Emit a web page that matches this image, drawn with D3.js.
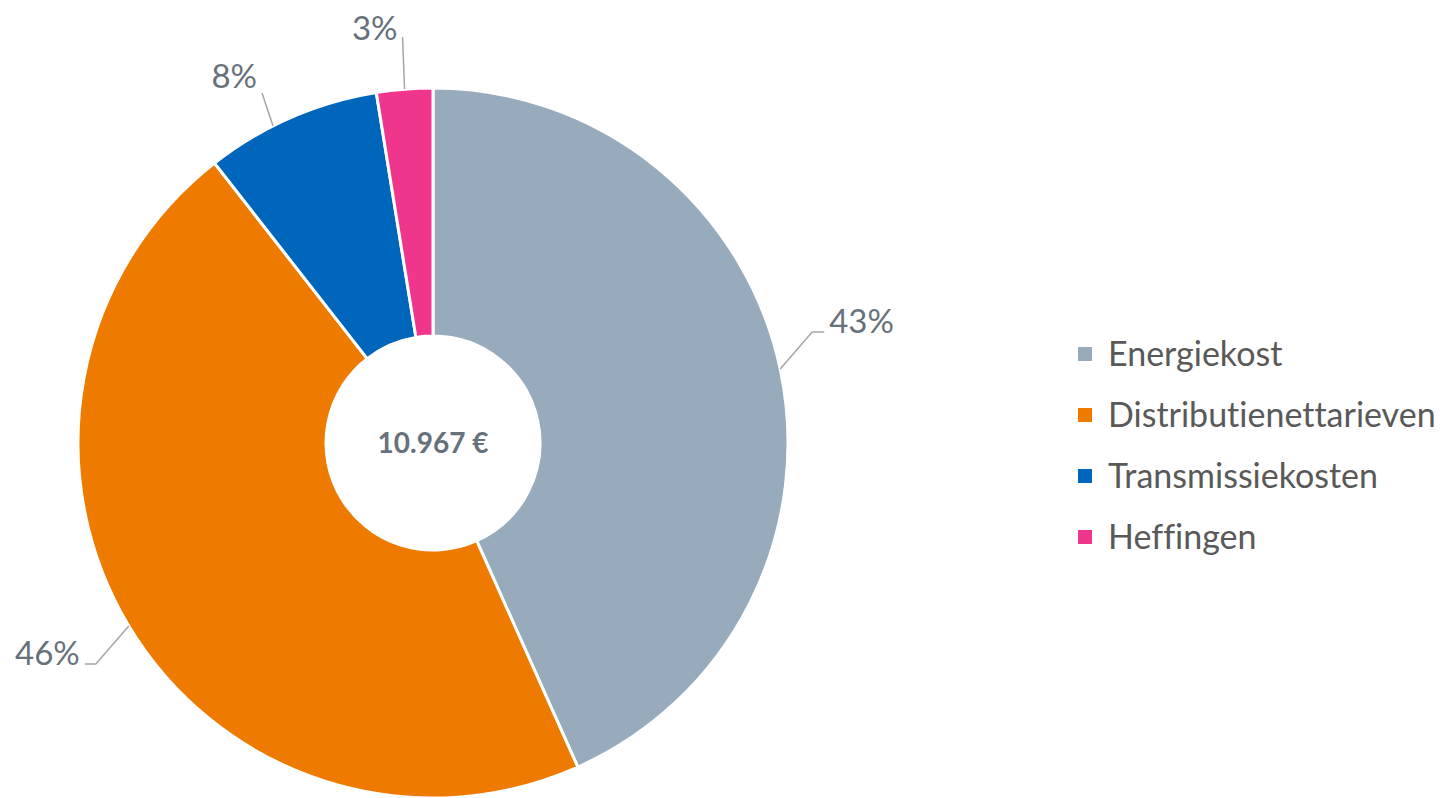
<!DOCTYPE html>
<html>
<head>
<meta charset="utf-8">
<script src="https://cdn.jsdelivr.net/npm/d3@7"></script>
<style>
    html, body { margin: 0; padding: 0; background: #fff; }
    svg { display: block; font-family: Lato, "Open Sans", sans-serif; font-variant-ligatures: none; }
</style>
</head>
<body>
<svg id="chart" width="1446" height="798"></svg>
<script>
// data
const categories = ['Energiekost', 'Distributienettarieven', 'Transmissiekosten', 'Heffingen'];
const values = [4750, 5060, 877, 280];
const colors = ['#97abbd', '#ef7a00', '#0066bb', '#f0368c'];
const totalLabel = '10.967 €';

// label leader layout (pixel offsets from the slice edge)
const labelLayout = [
    { nudge: 0, dx: 32, dy: -37, hx: 12, ty: 1 },
    { nudge: 0, dx: -33, dy: 38, hx: -11, ty: 1 },
    { nudge: -3.2, dx: -11, dy: -33, hx: 0, ty: -5 },
    { nudge: 0, dx: -2, dy: -52, hx: 0, ty: 3 }
];

const svg = d3.select('#chart');
const cx = 433, cy = 443;
const outerR = 355, innerR = 107;

const pie = d3.pie().sort(null).value(d => d.value);
const arc = d3.arc().innerRadius(innerR).outerRadius(outerR);

const rows = categories.map((c, i) => ({ name: c, value: values[i], color: colors[i] }));
const arcs = pie(rows);
const total = d3.sum(values);

const g = svg.append('g').attr('transform', `translate(${cx},${cy})`);

g.selectAll('path.slice')
    .data(arcs)
    .enter().append('path')
    .attr('class', 'slice')
    .attr('d', arc)
    .attr('fill', d => d.data.color)
    .attr('stroke', '#fff')
    .attr('stroke-width', 3)
    .attr('stroke-linejoin', 'miter');

// center total
g.append('text')
    .attr('x', 0)
    .attr('y', 0)
    .attr('dy', '0.35em')
    .attr('text-anchor', 'middle')
    .attr('font-weight', 700)
    .attr('font-size', 28)
    .attr('fill', '#67717b')
    .text(totalLabel);

// percentage labels with leader lines
const pct = d3.format('.0%');
arcs.forEach((d, i) => {
    const lay = labelLayout[i];
    const a = (d.startAngle + d.endAngle) / 2 + lay.nudge * Math.PI / 180;
    const x0 = outerR * Math.sin(a), y0 = -outerR * Math.cos(a);
    const x1 = x0 + lay.dx, y1 = y0 + lay.dy;
    const x2 = x1 + lay.hx;
    g.append('polyline')
        .attr('points', [[x0, y0], [x1, y1], [x2, y1]].map(p => p.join(',')).join(' '))
        .attr('fill', 'none')
        .attr('stroke', '#a6a6a6')
        .attr('stroke-width', 1.5);

    let tx, anchor;
    if (lay.hx > 0) { tx = x2 + 5; anchor = 'start'; }
    else { tx = x2 - 5; anchor = 'end'; }
    g.append('text')
        .attr('x', tx)
        .attr('y', y1 + lay.ty)
        .attr('text-anchor', anchor)
        .attr('font-size', 33)
        .attr('fill', '#67717b')
        .text(pct(d.data.value / total));
});

// legend
const legend = svg.append('g').attr('transform', 'translate(1078,354)');
const item = legend.selectAll('g.item')
    .data(rows)
    .enter().append('g')
    .attr('class', 'item')
    .attr('transform', (d, i) => `translate(0,${i * 61})`);

item.append('rect')
    .attr('x', 0)
    .attr('y', -7)
    .attr('width', 14)
    .attr('height', 14)
    .attr('fill', d => d.color);

item.append('text')
    .attr('x', 30)
    .attr('y', 0)
    .attr('dy', '0.35em')
    .attr('font-size', 34)
    .attr('fill', '#595959')
    .text(d => d.name);
</script>
</body>
</html>
